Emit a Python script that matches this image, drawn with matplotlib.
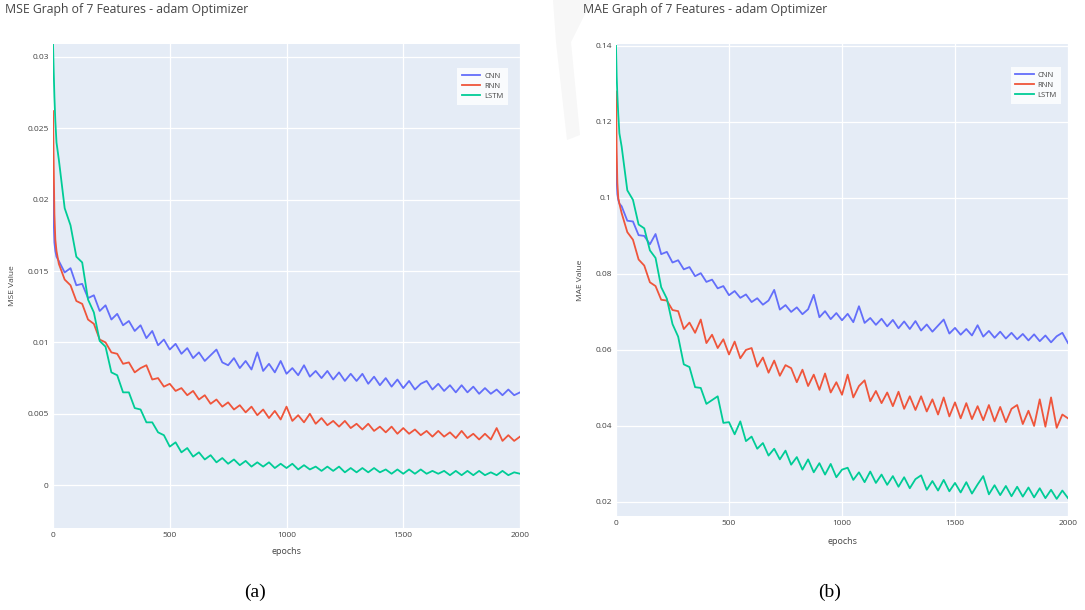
import matplotlib
matplotlib.use("Agg")
import matplotlib.pyplot as plt
from matplotlib.patches import Polygon

plt.rcParams["font.family"] = ["Open Sans", "DejaVu Sans"]

# ---- data -------------------------------------------------------------
epochs = [0, 3, 6, 10, 15] + list(range(25, 2001, 25))
model_names = ["CNN", "RNN", "LSTM"]

mse_cnn = [0.0215, 0.0185, 0.0170, 0.0164, 0.0160,
           0.0157, 0.0149, 0.0152, 0.0140, 0.0141, 0.0131, 0.0133, 0.0122,
           0.0126, 0.0116, 0.0120, 0.0112, 0.0115, 0.0108, 0.0112, 0.0103,
           0.0108, 0.0098, 0.0102, 0.0095, 0.0099, 0.0092, 0.0096, 0.0089,
           0.0093, 0.0087, 0.0091, 0.0095, 0.0086, 0.0084, 0.0089, 0.0082,
           0.0087, 0.0081, 0.0093, 0.0080, 0.0085, 0.0079, 0.0087, 0.0078,
           0.0082, 0.0077, 0.0084, 0.0076, 0.0080, 0.0075, 0.0080, 0.0074,
           0.0079, 0.0073, 0.0078, 0.0073, 0.0078, 0.0071, 0.0076, 0.0070,
           0.0075, 0.0069, 0.0074, 0.0068, 0.0073, 0.0067, 0.0071, 0.0073,
           0.0067, 0.0071, 0.0066, 0.0070, 0.0065, 0.0070, 0.0065, 0.0069,
           0.0064, 0.0068, 0.0064, 0.0067, 0.0063, 0.0067, 0.0063, 0.0065]

mse_rnn = [0.0262, 0.0225, 0.0190, 0.0172, 0.0164,
           0.0155, 0.0144, 0.0140, 0.0129, 0.0127, 0.0116, 0.0113, 0.0102,
           0.0100, 0.0093, 0.0092, 0.0085, 0.0086, 0.0079, 0.0082, 0.0084,
           0.0074, 0.0075, 0.0069, 0.0071, 0.0066, 0.0068, 0.0063, 0.0066,
           0.0060, 0.0063, 0.0057, 0.0060, 0.0055, 0.0058, 0.0053, 0.0056,
           0.0051, 0.0055, 0.0049, 0.0053, 0.0047, 0.0052, 0.0046, 0.0055,
           0.0045, 0.0049, 0.0044, 0.0050, 0.0043, 0.0047, 0.0042, 0.0045,
           0.0041, 0.0045, 0.0040, 0.0043, 0.0039, 0.0043, 0.0038, 0.0041,
           0.0037, 0.0041, 0.0036, 0.0040, 0.0036, 0.0039, 0.0035, 0.0038,
           0.0034, 0.0038, 0.0034, 0.0037, 0.0033, 0.0038, 0.0033, 0.0036,
           0.0032, 0.0036, 0.0032, 0.0040, 0.0031, 0.0035, 0.0031, 0.0034]

mse_lstm = [0.0310, 0.0290, 0.0272, 0.0255, 0.0240,
            0.0228, 0.0194, 0.0182, 0.0160, 0.0156, 0.0130, 0.0121, 0.0101,
            0.0097, 0.0079, 0.0077, 0.0065, 0.0065, 0.0054, 0.0053, 0.0044,
            0.0044, 0.0037, 0.0035, 0.0027, 0.0030, 0.0023, 0.0026, 0.0020,
            0.0023, 0.0018, 0.0021, 0.0016, 0.0019, 0.0015, 0.0018, 0.0014,
            0.0017, 0.0013, 0.0016, 0.0013, 0.0016, 0.0012, 0.0015, 0.0012,
            0.0015, 0.0011, 0.0014, 0.0011, 0.0013, 0.0010, 0.0013, 0.0010,
            0.0013, 0.0009, 0.0012, 0.0009, 0.0012, 0.0009, 0.0012, 0.0009,
            0.0011, 0.0008, 0.0011, 0.0008, 0.0011, 0.0008, 0.0011, 0.0008,
            0.0010, 0.0008, 0.0010, 0.0007, 0.0010, 0.0007, 0.0010, 0.0007,
            0.0010, 0.0007, 0.0009, 0.0007, 0.0010, 0.0007, 0.0009, 0.0008]

mae_cnn = [0.1150, 0.1050, 0.1010, 0.0995, 0.0985,
           0.0978, 0.0940, 0.0938, 0.0902, 0.0900, 0.0878, 0.0905, 0.0852,
           0.0858, 0.0830, 0.0836, 0.0812, 0.0818, 0.0794, 0.0802, 0.0779,
           0.0785, 0.0762, 0.0768, 0.0744, 0.0755, 0.0737, 0.0746, 0.0726,
           0.0736, 0.0719, 0.0730, 0.0758, 0.0706, 0.0718, 0.0700, 0.0712,
           0.0694, 0.0707, 0.0745, 0.0686, 0.0702, 0.0681, 0.0697, 0.0678,
           0.0695, 0.0673, 0.0715, 0.0671, 0.0684, 0.0666, 0.0682, 0.0662,
           0.0679, 0.0657, 0.0675, 0.0655, 0.0676, 0.0651, 0.0667, 0.0648,
           0.0664, 0.0680, 0.0643, 0.0658, 0.0640, 0.0655, 0.0638, 0.0665,
           0.0635, 0.0650, 0.0632, 0.0648, 0.0630, 0.0645, 0.0628, 0.0642,
           0.0625, 0.0641, 0.0623, 0.0638, 0.0620, 0.0636, 0.0645, 0.0618]

mae_rnn = [0.1280, 0.1120, 0.1040, 0.1000, 0.0985,
           0.0960, 0.0910, 0.0890, 0.0838, 0.0822, 0.0778, 0.0768, 0.0732,
           0.0730, 0.0705, 0.0702, 0.0655, 0.0672, 0.0645, 0.0680, 0.0618,
           0.0640, 0.0605, 0.0628, 0.0588, 0.0622, 0.0578, 0.0600, 0.0605,
           0.0556, 0.0580, 0.0540, 0.0572, 0.0532, 0.0560, 0.0552, 0.0515,
           0.0548, 0.0505, 0.0535, 0.0495, 0.0538, 0.0488, 0.0515, 0.0482,
           0.0535, 0.0475, 0.0505, 0.0520, 0.0465, 0.0492, 0.0460, 0.0488,
           0.0452, 0.0490, 0.0445, 0.0478, 0.0442, 0.0478, 0.0438, 0.0470,
           0.0430, 0.0475, 0.0425, 0.0462, 0.0420, 0.0460, 0.0418, 0.0452,
           0.0415, 0.0455, 0.0412, 0.0450, 0.0410, 0.0445, 0.0455, 0.0405,
           0.0440, 0.0400, 0.0470, 0.0398, 0.0475, 0.0395, 0.0430, 0.0420]

mae_lstm = [0.1400, 0.1320, 0.1270, 0.1220, 0.1170,
            0.1135, 0.1020, 0.0995, 0.0930, 0.0920, 0.0862, 0.0842, 0.0765,
            0.0735, 0.0668, 0.0635, 0.0562, 0.0555, 0.0502, 0.0500, 0.0458,
            0.0468, 0.0478, 0.0408, 0.0410, 0.0378, 0.0412, 0.0360, 0.0372,
            0.0340, 0.0355, 0.0322, 0.0340, 0.0312, 0.0335, 0.0298, 0.0318,
            0.0285, 0.0312, 0.0278, 0.0302, 0.0272, 0.0300, 0.0265, 0.0285,
            0.0290, 0.0258, 0.0278, 0.0252, 0.0280, 0.0250, 0.0272, 0.0245,
            0.0268, 0.0240, 0.0265, 0.0236, 0.0260, 0.0270, 0.0232, 0.0255,
            0.0230, 0.0258, 0.0228, 0.0250, 0.0225, 0.0252, 0.0222, 0.0246,
            0.0268, 0.0220, 0.0244, 0.0218, 0.0242, 0.0215, 0.0240, 0.0214,
            0.0238, 0.0212, 0.0236, 0.0210, 0.0232, 0.0208, 0.0230, 0.0210]

mse_ticks = [0, 0.005, 0.01, 0.015, 0.02, 0.025, 0.03]
mse_tick_labels = ["0", "0.005", "0.01", "0.015", "0.02", "0.025", "0.03"]
mae_ticks = [0.02, 0.04, 0.06, 0.08, 0.1, 0.12, 0.14]
mae_tick_labels = ["0.02", "0.04", "0.06", "0.08", "0.1", "0.12", "0.14"]
epoch_ticks = [0, 500, 1000, 1500, 2000]

# ---- styling ----------------------------------------------------------
W, H = 1085, 610
COLORS = ["#636EFA", "#EF553B", "#00CC96"]
BG = "#E5ECF6"
TXT = "#444444"


def px_axes(fig, x0, y0, x1, y1):
    """Create axes from pixel box (left, top, right, bottom)."""
    return fig.add_axes([x0 / W, 1 - y1 / H, (x1 - x0) / W, (y1 - y0) / H])


def style(ax, yticks, ylabels, ylim):
    ax.set_facecolor(BG)
    for s in ax.spines.values():
        s.set_visible(False)
    ax.set_xlim(0, 2000)
    ax.set_ylim(*ylim)
    ax.set_xticks(epoch_ticks)
    ax.set_xticklabels([str(t) for t in epoch_ticks])
    ax.set_yticks(yticks)
    ax.set_yticklabels(ylabels)
    ax.tick_params(length=0, labelsize=6, colors=TXT, pad=3)
    ax.grid(True, color="white", linewidth=0.9)
    ax.set_axisbelow(True)


fig = plt.figure(figsize=(W / 100, H / 100), dpi=100)
fig.patch.set_facecolor("white")

# faint page mark between the two panels
mark = [(553, 0), (592, 0), (571, 42), (580, 135), (567, 140), (556, 42)]
fig.patches.append(Polygon([(x / W, 1 - y / H) for x, y in mark],
                           closed=True, transform=fig.transFigure,
                           facecolor="#f7f7f7", edgecolor="none", zorder=0))

panels = [
    dict(box=(53, 44, 520, 528), series=[mse_cnn, mse_rnn, mse_lstm],
         ticks=mse_ticks, labels=mse_tick_labels, ylim=(-0.0030, 0.0309),
         title="MSE Graph of 7 Features - adam Optimizer", title_x=5,
         ylabel="MSE Value", ylabel_x=13, xlabel_y=551,
         legend_anchor=(0.974, 0.950), tag="(a)", tag_x=255),
    dict(box=(616, 44, 1068, 516), series=[mae_cnn, mae_rnn, mae_lstm],
         ticks=mae_ticks, labels=mae_tick_labels, ylim=(0.0163, 0.1405),
         title="MAE Graph of 7 Features - adam Optimizer", title_x=583,
         ylabel="MAE Value", ylabel_x=580, xlabel_y=541,
         legend_anchor=(0.985, 0.951), tag="(b)", tag_x=830),
]

for p in panels:
    x0, y0, x1, y1 = p["box"]
    ax = px_axes(fig, x0, y0, x1, y1)
    style(ax, p["ticks"], p["labels"], p["ylim"])
    for name, vals, c in zip(model_names, p["series"], COLORS):
        ax.plot(epochs, vals, color=c, linewidth=1.3, label=name)
    leg = ax.legend(loc="upper right", bbox_to_anchor=p["legend_anchor"],
                    fontsize=5.5, frameon=True, fancybox=False,
                    handlelength=2.4, handletextpad=0.5, labelspacing=0.35,
                    borderpad=0.6, borderaxespad=0)
    leg.get_frame().set_facecolor("white")
    leg.get_frame().set_edgecolor("white")
    leg.get_frame().set_linewidth(0)
    for t in leg.get_texts():
        t.set_color(TXT)

    fig.text(p["title_x"] / W, 1 - 9 / H, p["title"], fontsize=8.8,
             color=TXT, ha="left", va="center")
    fig.text(p["ylabel_x"] / W, 1 - ((y0 + y1) / 2) / H, p["ylabel"],
             fontsize=6, color=TXT, rotation=90, ha="center", va="center")
    fig.text(((x0 + x1) / 2) / W, 1 - p["xlabel_y"] / H, "epochs",
             fontsize=6.5, color=TXT, ha="center", va="center")
    fig.text(p["tag_x"] / W, 1 - 592 / H, p["tag"], fontsize=14,
             family=["Liberation Serif", "DejaVu Serif"], color="black",
             ha="center", va="center")

fig.savefig("out.png", dpi=100, facecolor="white")
